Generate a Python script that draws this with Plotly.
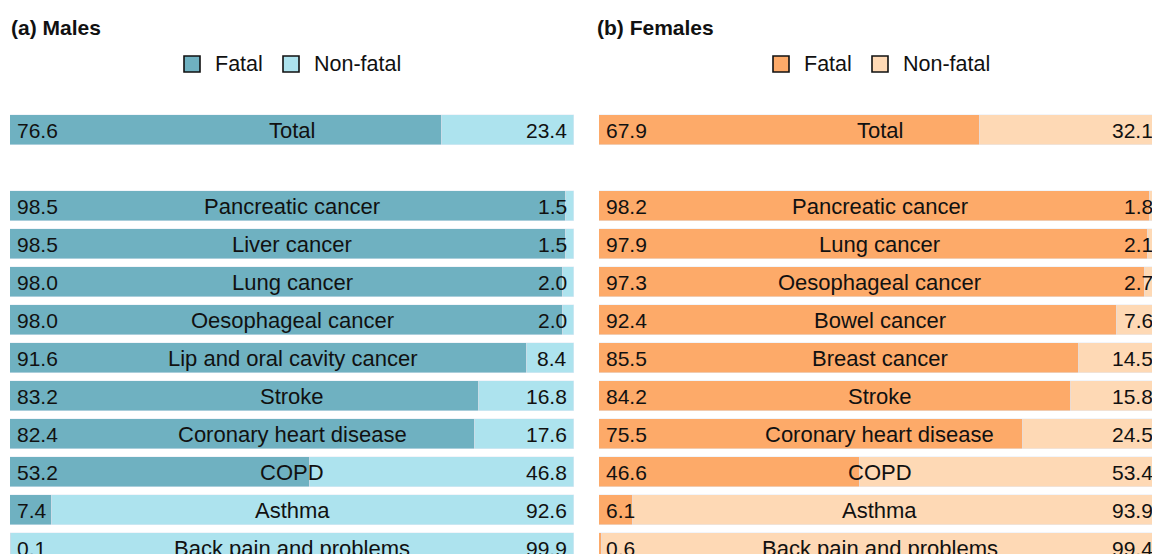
import plotly.graph_objects as go

# ---- data ----
male_labels = ["Total", "Pancreatic cancer", "Liver cancer", "Lung cancer", "Oesophageal cancer",
               "Lip and oral cavity cancer", "Stroke", "Coronary heart disease", "COPD", "Asthma",
               "Back pain and problems"]
male_fatal = [76.6, 98.5, 98.5, 98.0, 98.0, 91.6, 83.2, 82.4, 53.2, 7.4, 0.1]
male_nonfatal = [23.4, 1.5, 1.5, 2.0, 2.0, 8.4, 16.8, 17.6, 46.8, 92.6, 99.9]

female_labels = ["Total", "Pancreatic cancer", "Lung cancer", "Oesophageal cancer", "Bowel cancer",
                 "Breast cancer", "Stroke", "Coronary heart disease", "COPD", "Asthma",
                 "Back pain and problems"]
female_fatal = [67.9, 98.2, 97.9, 97.3, 92.4, 85.5, 84.2, 75.5, 46.6, 6.1, 0.6]
female_nonfatal = [32.1, 1.8, 2.1, 2.7, 7.6, 14.5, 15.8, 24.5, 53.4, 93.9, 99.4]

# row positions: Total separated by a gap
positions = [-2] + list(range(10))

M_FATAL, M_NON = "#6fb1c1", "#ade3ee"
F_FATAL, F_NON = "#fdaa69", "#fed9b5"
FONT = "Liberation Sans, Arial, sans-serif"
TXT = "#111111"

# page has an 8px body margin; figure drawn to fit inside the window
W, H = 1152, 546
OFF = 8

fig = go.Figure()
panels = [
    ("x", male_labels, male_fatal, male_nonfatal, M_FATAL, M_NON),
    ("x2", female_labels, female_fatal, female_nonfatal, F_FATAL, F_NON),
]
annotations = []
for xa, labels, fat, non, cf, cn in panels:
    fig.add_trace(go.Bar(y=positions, x=fat, orientation="h", marker_color=cf, width=0.81,
                         xaxis=xa, yaxis="y", name="Fatal", showlegend=False))
    fig.add_trace(go.Bar(y=positions, x=non, orientation="h", marker_color=cn, width=0.81,
                         xaxis=xa, yaxis="y", name="Non-fatal", showlegend=False))
    for p, lab, f, n in zip(positions, labels, fat, non):
        annotations.append(dict(x=0, y=p, xref=xa, yref="y", text=f"{f:.1f}", xanchor="left",
                                xshift=5, showarrow=False, font=dict(size=21, color=TXT, family=FONT)))
        annotations.append(dict(x=50, y=p, xref=xa, yref="y", text=lab, xanchor="center",
                                showarrow=False, font=dict(size=22, color=TXT, family=FONT)))
        annotations.append(dict(x=100, y=p, xref=xa, yref="y", text=f"{n:.1f}", xanchor="right",
                                xshift=-5, showarrow=False, font=dict(size=21, color=TXT, family=FONT)))


def px(x):
    return (x - OFF) / W


def py(y):
    return 1 - (y - OFF) / H


# titles
annotations.append(dict(x=px(9), y=py(28), xref="paper", yref="paper", text="<b>(a) Males</b>",
                        xanchor="left", yanchor="middle", showarrow=False,
                        font=dict(size=21, color=TXT, family=FONT)))
annotations.append(dict(x=px(595), y=py(28), xref="paper", yref="paper", text="<b>(b) Females</b>",
                        xanchor="left", yanchor="middle", showarrow=False,
                        font=dict(size=21, color=TXT, family=FONT)))

# manual legends
shapes = []
legend_items = [
    (184, "Fatal", M_FATAL), (283, "Non-fatal", M_NON),
    (773, "Fatal", F_FATAL), (872, "Non-fatal", F_NON),
]
for x0, name, col in legend_items:
    shapes.append(dict(type="rect", xref="paper", yref="paper",
                       x0=px(x0), x1=px(x0 + 16), y0=py(72), y1=py(56),
                       fillcolor=col, line=dict(color="#111111", width=1.6)))
    annotations.append(dict(x=px(x0 + 29), y=py(64), xref="paper", yref="paper", text=name,
                            xanchor="left", yanchor="middle", showarrow=False,
                            font=dict(size=21.5, color=TXT, family=FONT)))

row0 = 206 - OFF
top_val = -row0 / 38
bot_val = (H - row0) / 38
fig.update_layout(
    width=W, height=H, margin=dict(l=0, r=0, t=0, b=0),
    barmode="stack", bargap=0, plot_bgcolor="white", paper_bgcolor="white",
    xaxis=dict(domain=[px(10), px(574)], range=[0, 100], visible=False, fixedrange=True),
    xaxis2=dict(domain=[px(599), 1.0], range=[0, 100], visible=False, fixedrange=True),
    yaxis=dict(range=[bot_val, top_val], visible=False, fixedrange=True),
    annotations=annotations, shapes=shapes, showlegend=False,
)
fig.write_html("out.html")
